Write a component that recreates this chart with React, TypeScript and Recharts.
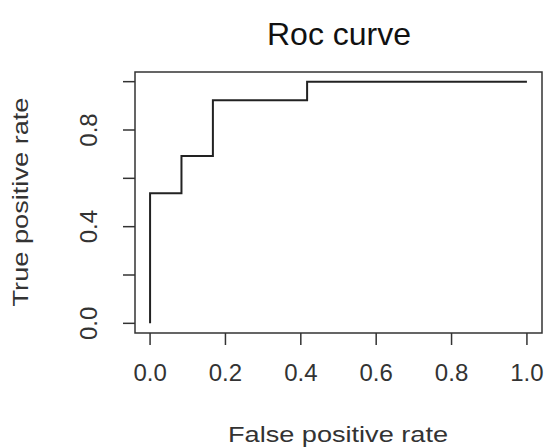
import React from 'react';
import { LineChart, Line, XAxis, YAxis, ReferenceArea } from 'recharts';

if (typeof document !== 'undefined') document.body.style.margin = '0';

const fpr = [0, 0, 0.0833, 0.0833, 0.1667, 0.1667, 0.4167, 0.4167, 1];
const tpr = [0, 0.538, 0.538, 0.692, 0.692, 0.923, 0.923, 1, 1];
const xTicks = [0, 0.2, 0.4, 0.6, 0.8, 1];
const yTicks = [0, 0.2, 0.4, 0.6, 0.8, 1];
const yLabelled = [0, 0.4, 0.8];

const data = fpr.map((x, i) => ({ fpr: x, tpr: tpr[i] }));

const font = 'Liberation Sans, Arial, sans-serif';
const ink = '#333';

const YTick = (props: any) => {
    const { x, y, payload } = props;
    if (!yLabelled.includes(payload.value)) return null;
    return (
        <text x={x - 24} y={y} transform={`rotate(-90 ${x - 24} ${y})`} textAnchor="middle"
            fontFamily={font} fontSize={24} fill={ink}>
            {payload.value.toFixed(1)}
        </text>
    );
};

const XTick = (props: any) => {
    const { x, y, payload } = props;
    return (
        <text x={x} y={y + 34} textAnchor="middle" fontFamily={font} fontSize={24} fill={ink}>
            {payload.value.toFixed(1)}
        </text>
    );
};

const App = () => {
    return (
        <div style={{ width: 548, height: 447, position: 'relative', background: '#fff' }}>
            <LineChart width={548} height={447} data={data}
                margin={{ top: 72, right: 6, bottom: 0, left: 0 }}>
                <XAxis dataKey="fpr" type="number" domain={[-0.04, 1.04]} ticks={xTicks}
                    allowDataOverflow axisLine={false} tickSize={12}
                    tickLine={{ stroke: ink, strokeWidth: 1.5 }} tick={<XTick />} height={114} />
                <YAxis type="number" domain={[-0.04, 1.04]} ticks={yTicks} allowDataOverflow
                    axisLine={false} tickSize={12} tickLine={{ stroke: ink, strokeWidth: 1.5 }}
                    tick={<YTick />} width={135} />
                <ReferenceArea x1={-0.04} x2={1.04} y1={-0.04} y2={1.04}
                    fill="none" stroke={ink} strokeWidth={1.5} fillOpacity={0} />
                <Line type="linear" dataKey="tpr" stroke="#222" strokeWidth={2}
                    dot={false} isAnimationActive={false} />
            </LineChart>
            <svg width={548} height={447} style={{ position: 'absolute', left: 0, top: 0, pointerEvents: 'none' }}>
                <text x={339} y={45} textAnchor="middle" fontFamily={font} fontSize={32} fill="#111">
                    Roc curve
                </text>
                <text x={338} y={442} textAnchor="middle" fontFamily={font} fontSize={22} fill={ink}
                    textLength={220} lengthAdjust="spacingAndGlyphs">
                    False positive rate
                </text>
                <text x={28} y={202} transform="rotate(-90 28 202)" textAnchor="middle"
                    fontFamily={font} fontSize={22} fill={ink}
                    textLength={209} lengthAdjust="spacingAndGlyphs">
                    True positive rate
                </text>
            </svg>
        </div>
    );
};

export default App;
